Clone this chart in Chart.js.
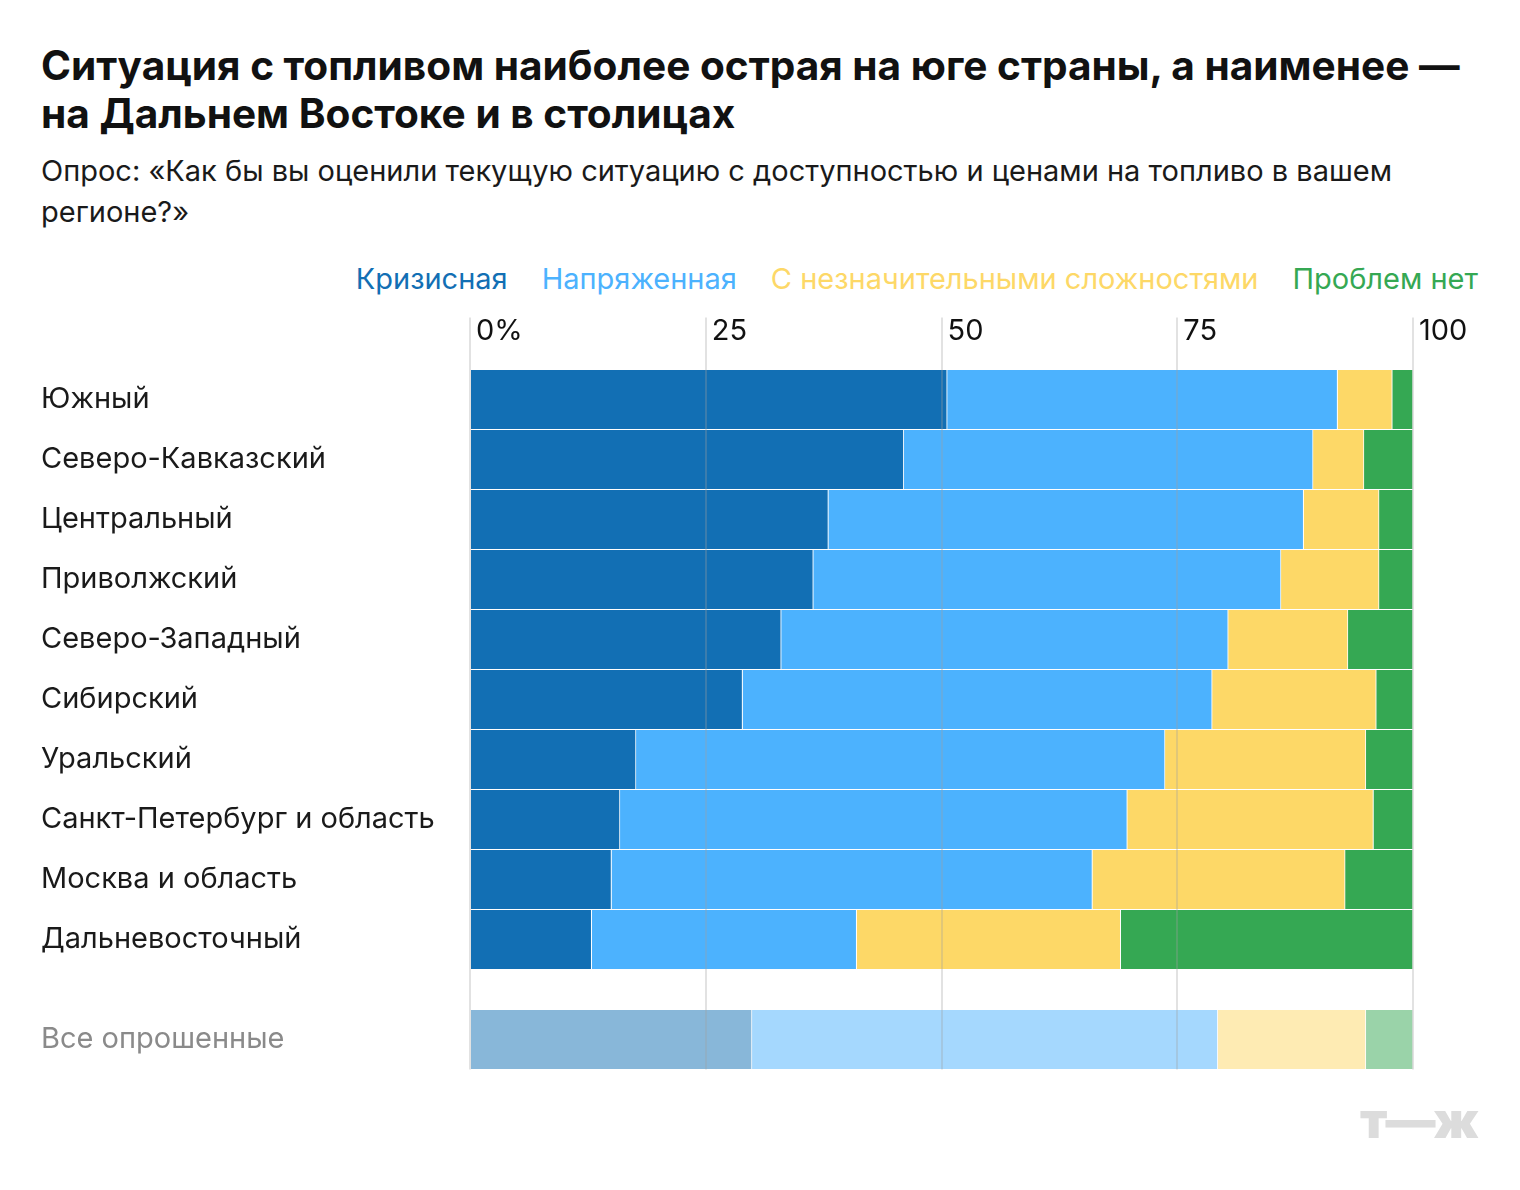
<!DOCTYPE html>
<html>
<head>
<meta charset="utf-8">
<script src="https://cdn.jsdelivr.net/npm/chart.js@4/dist/chart.umd.min.js"></script>
<style>
  html, body { margin: 0; padding: 0; background: #fff; }
  body { width: 1520px; height: 1190px; position: relative; overflow: hidden; font-family: Inter, "Noto Sans", sans-serif; }
  #title { position: absolute; left: 41px; top: 42px; width: 1480px; font-size: 40.6px; font-weight: 700; line-height: 48px; color: #111; white-space: nowrap; }
  #subtitle { position: absolute; left: 41px; top: 150px; width: 1460px; font-size: 29px; line-height: 41px; color: #1a1a1a; white-space: nowrap; }
  #legend { position: absolute; right: 42px; top: 261px; font-size: 29px; white-space: nowrap; }
  #legend span { margin-left: 34px; }
  #logo { position: absolute; left: 1360px; top: 1090px; font-size: 50px; font-weight: 900; color: #dcdcdc; letter-spacing: -2px; }
  canvas { position: absolute; left: 0; top: 0; }
</style>
</head>
<body>
<div id="title">Ситуация с топливом наиболее острая на юге страны, а наименее —<br>на Дальнем Востоке и в столицах</div>
<div id="subtitle">Опрос: «Как бы вы оценили текущую ситуацию с доступностью и ценами на топливо в вашем<br>регионе?»</div>
<div id="legend"></div>
<div id="logo">т—ж</div>
<canvas id="chart" width="1520" height="1190"></canvas>
<script>
const regions = ["Южный", "Северо-Кавказский", "Центральный", "Приволжский", "Северо-Западный",
  "Сибирский", "Уральский", "Санкт-Петербург и область", "Москва и область", "Дальневосточный", "Все опрошенные"];
// row positions on the y scale: the total row sits a bit lower, after a gap
const rowPos = [0, 1, 2, 3, 4, 5, 6, 7, 8, 9, 10.667];

const seriesNames = ["Кризисная", "Напряженная", "С незначительными сложностями", "Проблем нет"];
const crisis = [50.6, 46.0, 38.0, 36.4, 33.0, 28.9, 17.6, 15.9, 15.0, 12.9, 29.9];
const tense = [41.4, 43.4, 50.4, 49.6, 47.4, 49.8, 56.1, 53.8, 51.0, 28.1, 49.4];
const minor = [5.8, 5.4, 8.0, 10.4, 12.7, 17.4, 21.3, 26.1, 26.8, 28.0, 15.7];
const noProblem = [2.2, 5.2, 3.6, 3.6, 6.9, 3.9, 5.0, 4.2, 7.2, 31.0, 5.0];

const xTicks = [0, 25, 50, 75, 100];
const xTickLabels = ["0%", "25", "50", "75", "100"];
const colors = ["#126fb4", "#4cb2fe", "#fdd867", "#35a853"];
const fadedColors = ["rgba(18,111,180,0.5)", "rgba(76,178,254,0.5)", "rgba(253,216,103,0.5)", "rgba(53,168,83,0.5)"];

const legendEl = document.getElementById("legend");
legendEl.innerHTML = seriesNames.map((n, i) => `<span style="color:${colors[i]}">${n}</span>`).join("");

const allSeries = [crisis, tense, minor, noProblem];
const datasets = allSeries.map((vals, i) => ({
  label: seriesNames[i],
  data: vals.map((v, j) => ({ x: v, y: rowPos[j] })),
  backgroundColor: ctx => ctx.dataIndex === regions.length - 1 ? fadedColors[i] : colors[i],
  borderColor: "#fff",
  borderWidth: { top: 0, bottom: 0, left: 0, right: 1 },
  borderSkipped: false,
  barThickness: 59
}));

// x tick labels sit just right of their grid lines, above the plot
const topLabels = {
  id: "topLabels",
  afterDraw(chart) {
    const ctx = chart.ctx;
    const x = chart.scales.x;
    ctx.save();
    ctx.font = "29px Inter";
    ctx.fillStyle = "#111";
    ctx.textAlign = "left";
    ctx.textBaseline = "middle";
    xTicks.forEach((v, i) => ctx.fillText(xTickLabels[i], x.getPixelForValue(v) + 6, 331));
    ctx.restore();
  }
};

new Chart(document.getElementById("chart"), {
  type: "bar",
  data: { datasets: datasets },
  options: {
    indexAxis: "y",
    responsive: false,
    animation: false,
    layout: { padding: { left: 41, right: 107, top: 317.5, bottom: 120.5 } },
    plugins: { legend: { display: false }, tooltip: { enabled: false } },
    scales: {
      x: {
        type: "linear",
        position: "top",
        stacked: true,
        min: 0,
        max: 100,
        afterBuildTicks: scale => { scale.ticks = xTicks.map(v => ({ value: v })); },
        grid: { color: "rgba(160,160,160,0.3)", lineWidth: 2, tickLength: 52, z: 1 },
        border: { display: false },
        ticks: { display: false }
      },
      y: {
        type: "linear",
        stacked: true,
        reverse: true,
        offset: false,
        min: -0.5,
        max: 11.167,
        afterBuildTicks: scale => { scale.ticks = rowPos.map(v => ({ value: v })); },
        afterFit: scale => { scale.width = 429; },
        grid: { display: false },
        border: { display: false },
        ticks: {
          crossAlign: "far",
          padding: 0,
          autoSkip: false,
          color: ctx => ctx.index === regions.length - 1 ? "#8a8a8a" : "#1a1a1a",
          font: { family: "Inter", size: 29 },
          callback: (v, i) => regions[i]
        }
      }
    }
  },
  plugins: [topLabels]
});
</script>
</body>
</html>
